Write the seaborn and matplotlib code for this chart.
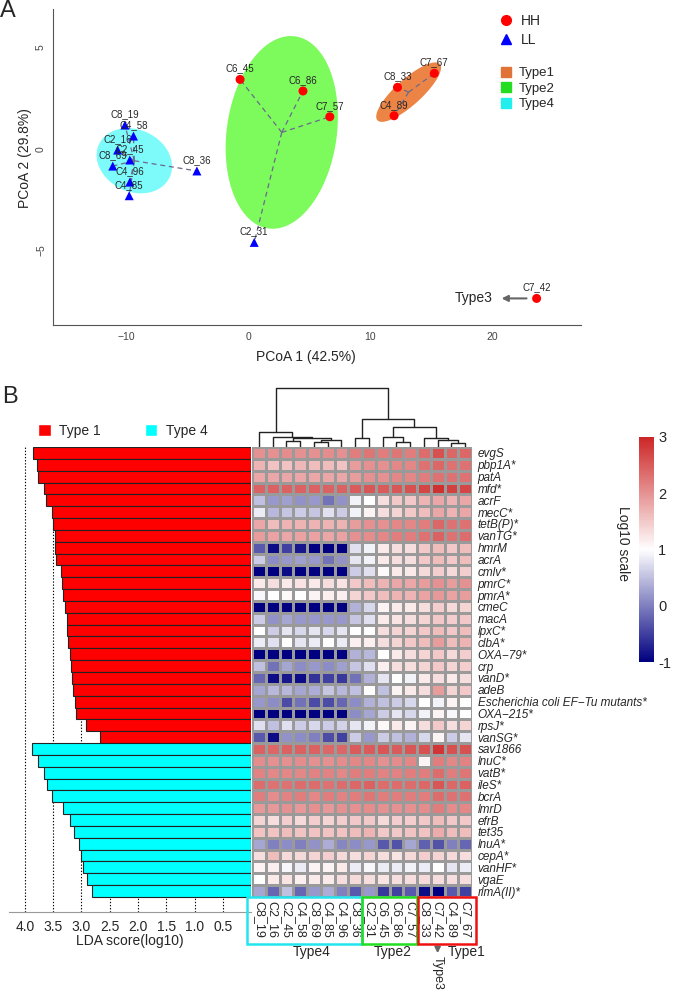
import numpy as np
import pandas as pd
import seaborn as sns
import matplotlib.pyplot as plt
from matplotlib.colors import LinearSegmentedColormap
from matplotlib.lines import Line2D
from matplotlib.patches import Patch, Rectangle, Polygon

sns.set_style('white')
plt.rcParams['font.family'] = ['Liberation Sans', 'DejaVu Sans']

# ---------------- panel A : PCoA ----------------
samples = ['C8_19', 'C4_58', 'C2_16', 'C2_45', 'C8_69', 'C4_96', 'C4_85', 'C8_36', 'C2_31',
           'C6_45', 'C6_86', 'C7_57', 'C8_33', 'C7_67', 'C4_89', 'C7_42']
pc1 = [-10.1, -9.4, -10.7, -9.7, -11.1, -9.7, -9.75, -4.2, 0.5,
       -0.66, 4.5, 6.7, 12.25, 15.27, 11.97, 23.66]
pc2 = [1.18, 0.64, -0.05, -0.54, -0.84, -1.63, -2.3, -1.08, -4.6,
       3.43, 2.86, 1.59, 3.04, 3.73, 1.64, -7.36]
level = ['LL'] * 9 + ['HH'] * 7
cluster = ['Type4'] * 8 + ['Type2'] * 4 + ['Type1'] * 3 + ['Type3']

# ---------------- panel B : LDA + heatmap ----------------
type1_genes = ['evgS', 'pbp1A*', 'patA', 'mfd*', 'acrF', 'mecC*', 'tetB(P)*', 'vanTG*', 'hmrM',
               'acrA', 'cmlv*', 'pmrC*', 'pmrA*', 'cmeC', 'macA', 'lpxC*', 'clbA*', 'OXA\u221279*',
               'crp', 'vanD*', 'adeB', 'Escherichia coli EF\u2212Tu mutants*', 'OXA\u2212215*',
               'rpsJ*', 'vanSG*']
type4_genes = ['sav1866', 'lnuC*', 'vatB*', 'ileS*', 'bcrA', 'lmrD', 'efrB', 'tet35', 'lnuA*',
               'cepA*', 'vanHF*', 'vgaE', 'rlmA(II)*']
lda_type1 = [3.86, 3.78, 3.76, 3.66, 3.63, 3.52, 3.50, 3.47, 3.46, 3.45, 3.37, 3.35, 3.33,
             3.29, 3.26, 3.25, 3.24, 3.20, 3.19, 3.16, 3.15, 3.11, 3.09, 2.92, 2.67]
lda_type4 = [3.88, 3.76, 3.66, 3.60, 3.52, 3.33, 3.20, 3.14, 3.04, 3.01, 2.97, 2.90, 2.81]

heat_cols = ['C8_19', 'C2_16', 'C2_45', 'C4_58', 'C8_69', 'C4_85', 'C4_96', 'C8_36',
             'C2_31', 'C6_45', 'C6_86', 'C7_57', 'C8_33', 'C7_42', 'C4_89', 'C7_67']

heat_type1 = [
    [2.0, 2.0, 2.05, 2.0, 2.0, 2.05, 2.0, 2.2, 2.25, 2.2, 2.25, 2.2, 2.35, 2.6, 2.4, 2.4],
    [1.7, 1.55, 1.55, 1.65, 1.6, 1.6, 1.55, 1.9, 2.0, 2.0, 2.1, 2.1, 2.3, 2.4, 2.3, 2.3],
    [1.8, 1.8, 1.8, 1.8, 1.8, 1.8, 1.8, 1.9, 2.0, 2.0, 2.1, 2.1, 2.2, 2.3, 2.3, 2.3],
    [2.45, 2.45, 2.45, 2.45, 2.45, 2.45, 2.45, 2.5, 2.55, 2.5, 2.55, 2.6, 2.7, 2.9, 2.75, 2.7],
    [0.5, 0.2, 0.25, 0.15, 0.2, -0.1, 0.15, 0.9, 1.0, 1.3, 1.5, 1.5, 1.7, 1.8, 1.7, 1.8],
    [0.85, 0.45, 0.55, 0.6, 0.55, 0.75, 0.6, 0.9, 1.1, 1.3, 1.4, 1.5, 1.6, 1.8, 1.7, 1.8],
    [1.8, 1.6, 1.7, 1.7, 1.7, 1.7, 1.7, 1.9, 2.0, 2.0, 2.1, 2.1, 2.2, 2.4, 2.3, 2.3],
    [1.9, 1.85, 1.8, 1.85, 1.85, 1.8, 1.85, 2.0, 2.05, 2.1, 2.2, 2.2, 2.3, 2.45, 2.3, 2.35],
    [-0.3, -0.9, -0.5, -0.8, -1.0, -1.0, -1.0, 0.75, 0.9, 1.2, 1.3, 1.3, 1.5, 1.6, 1.5, 1.6],
    [0.6, 0.1, 0.2, 0.25, 0.2, -0.1, 0.15, 0.8, 0.9, 1.2, 1.3, 1.3, 1.5, 1.6, 1.5, 1.6],
    [-1.0, -1.0, -0.9, -1.0, -1.0, -1.0, -1.0, 0.6, 0.75, 1.05, 1.2, 1.2, 1.35, 1.45, 1.35, 1.45],
    [1.2, 1.3, 1.2, 1.25, 1.2, 1.3, 1.25, 1.5, 1.6, 1.7, 1.8, 1.8, 1.9, 2.0, 1.9, 2.0],
    [0.95, 1.0, 1.05, 1.0, 1.1, 1.15, 1.15, 1.4, 1.5, 1.6, 1.7, 1.7, 1.85, 1.95, 1.85, 1.9],
    [-1.0, -1.0, -1.0, -1.0, -1.0, -1.0, -1.0, 0.4, 0.7, 1.1, 1.2, 1.2, 1.3, 1.45, 1.35, 1.4],
    [0.6, 0.15, 0.3, 0.2, 0.2, 0.2, 0.2, 0.55, 0.75, 1.2, 1.25, 1.3, 1.4, 1.5, 1.45, 1.5],
    [1.0, 0.6, 0.8, 0.7, 0.8, 0.7, 0.8, 1.0, 1.0, 1.3, 1.4, 1.4, 1.5, 1.6, 1.5, 1.6],
    [0.85, 0.75, 1.0, 0.8, 0.85, 1.0, 0.85, 1.15, 1.15, 1.3, 1.4, 1.5, 1.6, 1.9, 1.6, 1.7],
    [-1.0, -1.0, -1.0, -1.0, -1.0, -1.0, -1.0, 0.4, 0.45, 1.0, 1.2, 1.3, 1.4, 1.5, 1.35, 1.45],
    [0.5, -0.1, 0.3, 0.1, 0.2, 0.1, 0.25, 0.55, 0.75, 1.15, 1.3, 1.3, 1.4, 1.5, 1.4, 1.45],
    [-0.2, -0.9, -0.8, -0.9, -0.6, -0.5, -0.55, -0.1, 0.4, 0.8, 1.0, 0.9, 1.2, 1.3, 1.2, 1.3],
    [0.3, 0.45, 0.45, 0.3, 0.35, 0.55, 0.45, 0.5, 1.0, 0.5, 1.1, 1.2, 1.3, 1.9, 1.4, 1.5],
    [0.2, 0.1, -0.4, -0.1, -0.4, -0.4, -0.2, 0.1, 0.4, 0.5, 0.6, 0.7, 1.0, 0.9, 1.1, 1.0],
    [-1.0, -1.0, -1.0, -1.0, -1.0, -1.0, -1.0, 0.1, 0.3, 0.6, 0.8, 0.7, 0.9, 1.1, 0.95, 1.0],
    [0.75, 0.5, 0.75, 0.6, 0.7, 0.6, 0.65, 0.8, 0.9, 1.05, 1.2, 1.1, 1.3, 1.5, 1.3, 1.4],
    [-0.3, -0.9, 0.15, 0.1, 0.0, -0.4, -0.5, 0.6, 0.2, 0.6, 0.5, 0.4, 0.7, 1.1, 0.6, 0.8],
]
heat_type4 = [
    [2.45, 2.4, 2.45, 2.45, 2.45, 2.4, 2.4, 2.5, 2.5, 2.55, 2.5, 2.55, 2.6, 2.85, 2.6, 2.6],
    [2.05, 2.0, 2.0, 2.05, 2.0, 2.0, 2.05, 2.1, 2.1, 2.0, 2.05, 2.1, 1.1, 2.2, 2.1, 2.15],
    [2.15, 2.1, 2.1, 2.1, 2.15, 2.15, 2.1, 2.2, 2.2, 2.15, 2.15, 2.2, 2.2, 2.35, 2.2, 2.25],
    [2.35, 2.3, 2.3, 2.35, 2.35, 2.3, 2.35, 2.4, 2.45, 2.35, 2.35, 2.35, 2.4, 2.55, 2.4, 2.45],
    [2.2, 2.05, 2.15, 2.2, 2.1, 2.2, 2.15, 2.2, 2.25, 2.2, 2.2, 2.2, 2.2, 2.35, 2.3, 2.3],
    [1.95, 1.95, 2.0, 1.95, 2.0, 1.95, 2.0, 2.0, 2.05, 2.0, 2.0, 2.0, 2.05, 2.2, 2.05, 2.1],
    [1.4, 1.3, 1.45, 1.35, 1.45, 1.4, 1.45, 1.5, 1.5, 1.35, 1.45, 1.45, 1.5, 1.6, 1.5, 1.5],
    [1.55, 1.55, 1.6, 1.55, 1.55, 1.55, 1.55, 1.6, 1.7, 1.5, 1.5, 1.55, 1.55, 1.75, 1.6, 1.6],
    [0.3, 0.0, 0.1, 0.0, 0.15, 0.35, 0.05, 0.1, 0.2, -0.3, -0.35, 0.3, -0.25, -0.35, 0.0, -0.2],
    [1.3, 1.6, 1.35, 1.35, 1.4, 1.45, 1.35, 1.3, 1.4, 1.3, 1.25, 1.35, 1.45, 1.4, 1.35, 1.3],
    [1.1, 1.15, 0.95, 0.85, 1.1, 1.1, 1.2, 0.85, 0.95, 0.85, 0.85, 0.9, 0.85, 1.0, 0.8, 0.85],
    [1.0, 1.2, 1.25, 1.15, 1.2, 1.2, 1.3, 1.35, 1.3, 1.25, 1.3, 1.3, 1.35, 1.3, 1.3, 1.3],
    [0.3, -0.2, 0.5, -0.2, 0.2, 0.35, 0.0, -0.3, 0.2, -0.55, -0.5, -0.3, -0.9, -1.0, -0.3, -0.5],
]

# column dendrogram: (left, right, height), leaves 0..15, new nodes from 16
col_linkage = [(4, 5, 5.0), (14, 15, 4.3), (10, 11, 5.0), (2, 3, 6.0), (13, 17, 7.0),
               (16, 6, 7.5), (12, 20, 8.7), (19, 21, 9.0), (7, 8, 9.3), (9, 18, 9.6),
               (1, 23, 10.3), (0, 26, 14.7), (25, 22, 20.3), (24, 28, 27.7), (27, 29, 58.7)]

W, H = 674, 992
fig = plt.figure(figsize=(W / 100, H / 100), dpi=100)


def fbox(left, top, right, bottom):
    return [left / W, 1 - bottom / H, (right - left) / W, (bottom - top) / H]


# ---------------- panel A ----------------
dfA = pd.DataFrame({'sample': samples, 'pc1': pc1, 'pc2': pc2, 'level': level, 'cluster': cluster})
axA = fig.add_axes(fbox(53, 9, 581, 325))
xlim, ylim = (-16, 27.3), (-8.67, 6.9)
axA.set_xlim(*xlim)
axA.set_ylim(*ylim)
ppx = 528 / (xlim[1] - xlim[0])
ppy = 316 / (ylim[1] - ylim[0])

ell_style = {'Type4': ('#7DFBFB', 39, 31, -25),
             'Type2': ('#7DFA5C', 97, 55, 82),
             'Type1': ('#EC8446', 42, 13, 42)}
t = np.linspace(0, 2 * np.pi, 200)
for name, (col, a, b, ang) in ell_style.items():
    g = dfA[dfA.cluster == name]
    cx, cy = g.pc1.mean(), g.pc2.mean()
    th = np.deg2rad(ang)
    dx = a * np.cos(t) * np.cos(th) - b * np.sin(t) * np.sin(th)
    dy = a * np.cos(t) * np.sin(th) + b * np.sin(t) * np.cos(th)
    axA.add_patch(Polygon(np.c_[cx + dx / ppx, cy + dy / ppy], closed=True,
                          facecolor=col, edgecolor='none', zorder=1))
    for _, r in g.iterrows():
        axA.plot([cx, r.pc1], [cy, r.pc2], ls=(0, (4, 3)), color='#6A6A8C', lw=0.9, zorder=2)

sns.scatterplot(data=dfA, x='pc1', y='pc2', hue='level', style='level',
                palette={'HH': '#FF0000', 'LL': '#0000FF'}, markers={'HH': 'o', 'LL': '^'},
                s=42, edgecolor='none', legend=False, ax=axA, zorder=3)
for _, r in dfA.iterrows():
    axA.annotate(r['sample'], (r.pc1, r.pc2), xytext=(0, 4.2), textcoords='offset points',
                 ha='center', va='bottom', fontsize=7, zorder=4)

c3 = dfA[dfA.cluster == 'Type3'].iloc[0]
axA.annotate('', xy=(c3.pc1 - 3.1, c3.pc2), xytext=(c3.pc1 - 0.6, c3.pc2),
             arrowprops=dict(arrowstyle='-|>', color='#666666', lw=1.5, mutation_scale=9))
axA.text(c3.pc1 - 3.6, c3.pc2, 'Type3', ha='right', va='center', fontsize=10)

sns.despine(ax=axA)
for s in ['left', 'bottom']:
    axA.spines[s].set_color('#555555')
axA.set_xticks([-10, 0, 10, 20])
axA.set_yticks([-5, 0, 5])
axA.tick_params(direction='out', length=3, width=0.8, labelsize=7.5, colors='#444444', pad=2)
for lab in axA.get_yticklabels():
    lab.set_rotation(90)
    lab.set_va('center')
axA.set_xlabel('')
axA.set_ylabel('')
fig.text(306 / W, 1 - 357 / H, 'PCoA 1 (42.5%)', ha='center', va='center', fontsize=10)
fig.text(25 / W, 1 - 158 / H, 'PCoA 2 (29.8%)', ha='center', va='center', fontsize=10, rotation=90)

leg1 = axA.legend(handles=[Line2D([], [], marker='o', ls='', color='#FF0000', ms=7, label='HH'),
                           Line2D([], [], marker='^', ls='', color='#0000FF', ms=7, label='LL')],
                  loc='upper left', bbox_to_anchor=(499 / W, 1 - 14 / H), bbox_transform=fig.transFigure,
                  frameon=False, fontsize=10, handlelength=1, handletextpad=0.6,
                  labelspacing=0.35, borderpad=0, borderaxespad=0)
axA.add_artist(leg1)
axA.legend(handles=[Line2D([], [], marker='s', ls='', color='#E07438', ms=7.5, label='Type1'),
                    Line2D([], [], marker='s', ls='', color='#22DD22', ms=7.5, label='Type2'),
                    Line2D([], [], marker='s', ls='', color='#22EEEE', ms=7.5, label='Type4')],
           loc='upper left', bbox_to_anchor=(499 / W, 1 - 67 / H), bbox_transform=fig.transFigure,
           frameon=False, fontsize=9.5, handlelength=1, handletextpad=0.5,
           labelspacing=0.25, borderpad=0, borderaxespad=0)

fig.text(8 / W, 1 - 11 / H, 'A', ha='center', va='center', fontsize=17)
fig.text(10 / W, 1 - 397 / H, 'B', ha='center', va='center', fontsize=17)

# ---------------- panel B : LDA bars ----------------
genes = type1_genes + type4_genes
dfB = pd.DataFrame({'gene': genes, 'lda': lda_type1 + lda_type4,
                    'group': ['Type 1'] * len(type1_genes) + ['Type 4'] * len(type4_genes)})
n = len(genes)
row_px = 450 / n
bax = fig.add_axes(fbox(9, 447, 251.3, 912))
for v in np.arange(0.5, 4.01, 0.5):
    bax.axvline(v, ls=(0, (1.2, 1.6)), color='black', lw=0.8, zorder=0)
sns.barplot(data=dfB, x='lda', y='gene', hue='group', palette={'Type 1': '#FF0000', 'Type 4': '#00FFFF'},
            dodge=False, width=1.0, saturation=1, edgecolor='#222222', linewidth=0.8, legend=False,
            ax=bax, orient='h', zorder=2)
bax.set_xlim(4.28, 0)
bax.set_ylim(n - 0.5 + 15 / row_px, -0.5)
bax.set_yticks([])
bax.set_ylabel('')
bax.set_xticks(np.arange(0.5, 4.01, 0.5))
bax.set_xticklabels([f'{v:.1f}' for v in np.arange(0.5, 4.01, 0.5)])
bax.tick_params(axis='x', direction='out', length=4, color='#999999', labelsize=10, pad=2)
bax.set_xlabel('LDA score(log10)', fontsize=10, labelpad=0)
for s in ['top', 'right', 'left']:
    bax.spines[s].set_visible(False)
bax.spines['bottom'].set_color('#999999')
bax.grid(False)

fig.legend(handles=[Patch(facecolor='#FF0000', label='Type 1'), Patch(facecolor='#00FFFF', label='Type 4')],
           loc='center left', bbox_to_anchor=(38 / W, 1 - 431 / H), ncol=2, frameon=False,
           fontsize=10, handlelength=0.9, handleheight=0.9, handletextpad=0.6, columnspacing=3.2,
           borderpad=0, borderaxespad=0)

# ---------------- heatmap ----------------
hm = pd.DataFrame(heat_type1 + heat_type4, index=genes, columns=heat_cols)
cmap = LinearSegmentedColormap.from_list('nwf', ['#000080', '#FFFFFF', '#CD2626'])
hax = fig.add_axes(fbox(252, 447, 472, 897))
cax = fig.add_axes(fbox(639, 437, 654, 662))
sns.heatmap(hm, cmap=cmap, vmin=-1, vmax=3, linewidths=0.8, linecolor='#9A9A9A',
            ax=hax, cbar_ax=cax, xticklabels=True, yticklabels=True)
hax.yaxis.tick_right()
hax.set_yticklabels(genes, rotation=0, fontsize=8.5, style='italic', ha='left')
hax.set_xticklabels(heat_cols, rotation=270, fontsize=9, ha='center', va='top')
hax.tick_params(length=0, pad=3)
hax.tick_params(axis='y', pad=4)
hax.set_xlabel('')
hax.set_ylabel('')

cax.set_yticks([-1, 0, 1, 2, 3])
cax.set_yticklabels(['-1', '0', '1', '2', '3'])
cax.tick_params(length=0, labelsize=10.5, pad=3)
for sp in cax.spines.values():
    sp.set_visible(False)
fig.text(623 / W, 1 - 543 / H, 'Log10 scale', rotation=270, ha='center', va='center', fontsize=10)

# column type boxes
box_spec = [(-0.35, 8.0, '#22E5EE', 'Type4', 4.36),
            (8.0, 12.0, '#22DD22', 'Type2', 10.2),
            (12.05, 16.3, '#EE1111', 'Type1', 15.6)]
for x0, x1, col, lab, tx in box_spec:
    hax.add_patch(Rectangle((x0, n), x1 - x0, 47 / row_px, fill=False, edgecolor=col,
                            lw=1.8, clip_on=False, zorder=5))
    hax.text(tx, n + 55 / row_px, lab, ha='center', va='center', fontsize=10)
k3 = heat_cols.index('C7_42') + 0.5
hax.annotate('', xy=(k3, n + 59 / row_px), xytext=(k3, n + 47 / row_px),
             arrowprops=dict(arrowstyle='-|>', color='#666666', lw=1.5, mutation_scale=8),
             annotation_clip=False)
hax.text(k3, n + 59 / row_px, 'Type3', rotation=270, ha='center', va='top', fontsize=9)

# ---------------- dendrogram ----------------
dax = fig.add_axes(fbox(252, 387, 472, 447))
dax.set_xlim(0, len(heat_cols))
dax.set_ylim(0, 60)
dax.axis('off')
pos = {i: i + 0.5 for i in range(len(heat_cols))}
hgt = {i: 0.0 for i in range(len(heat_cols))}
for k, (l, r, h) in enumerate(col_linkage):
    node = len(heat_cols) + k
    dax.plot([pos[l], pos[l], pos[r], pos[r]], [hgt[l], h, h, hgt[r]], color='#222222', lw=1)
    pos[node] = (pos[l] + pos[r]) / 2
    hgt[node] = h

fig.savefig('out.png', dpi=100)
